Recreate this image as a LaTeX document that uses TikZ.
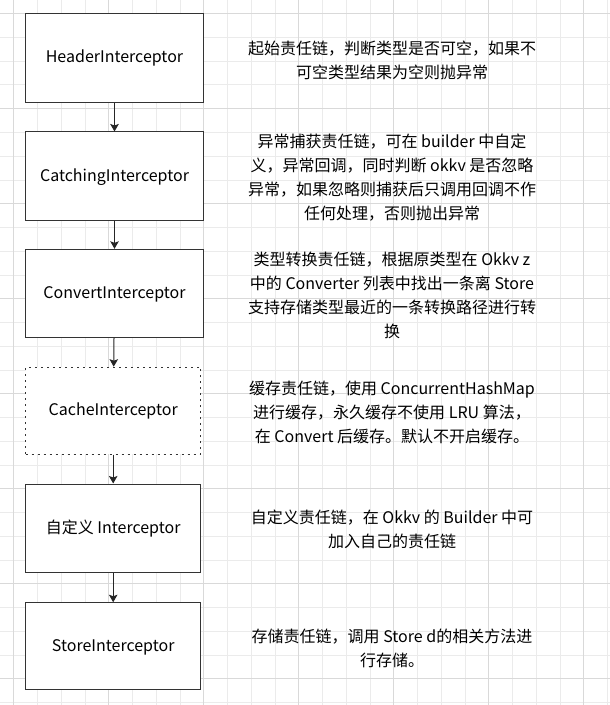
\documentclass[tikz,border=0pt]{standalone}
\usepackage{fontspec}
\setmainfont{Noto Sans CJK SC}
\usepackage{xcolor}
\usepackage{tikz}
\usetikzlibrary{arrows.meta, positioning}

\begin{document}
\begin{tikzpicture}[x=1bp, y=-1bp,
  box/.style={draw=black!80, line width=1bp, minimum width=177.5bp, minimum height=88bp,
    inner sep=0pt, text height=12bp, text depth=2bp, font=\fontsize{16bp}{20bp}\selectfont},
  smallbox/.style={box, minimum width=175bp},
  note/.style={align=center, inner sep=0pt, font=\fontsize{16bp}{24bp}\selectfont},
  link/.style={-{Stealth[length=7.5bp, width=8.5bp, inset=1.5bp]}, line width=1bp, black!85}]
  \useasboundingbox (0,0) rectangle (610,705);
  \fill[white] (0,0) rectangle (610,705);

  % grid
  \foreach \k in {0,...,25} {
    \pgfmathsetmacro\gx{13.75+23.75*\k}
    \draw[black!8, line width=1bp] (\gx,0) -- (\gx,705);
  }
  \foreach \k in {0,...,29} {
    \pgfmathsetmacro\gy{13.75+23.75*\k}
    \draw[black!8, line width=1bp] (0,\gy) -- (610,\gy);
  }
  \foreach \k in {0,4,...,24} {
    \pgfmathsetmacro\gx{13.75+23.75*\k}
    \draw[black!15, line width=1bp] (\gx,0) -- (\gx,705);
  }
  \foreach \k in {0,4,...,28} {
    \pgfmathsetmacro\gy{13.75+23.75*\k}
    \draw[black!15, line width=1bp] (0,\gy) -- (610,\gy);
  }

  % interceptor chain
  \node[box, fill=white] (header) at (114.5,58) {HeaderInterceptor};
  \node[box, fill=white] (catching) at (114.5,176) {CatchingInterceptor};
  \node[box, fill=white] (convert) at (114.5,293.3) {ConvertInterceptor};
  \node[smallbox, fill=white, dash pattern=on 2bp off 4bp, minimum height=87bp] (cache) at (113.2,410.7) {CacheInterceptor};
  \node[smallbox, fill=white] (custom) at (113.2,528) {自定义 Interceptor};
  \node[smallbox, fill=white, minimum height=86.5bp] (store) at (113.2,646) {StoreInterceptor};

  \draw[link] (header) -- (catching);
  \draw[link] (catching) -- (convert);
  \draw[link] (convert) -- (cache);
  \draw[link] (cache) -- (custom);
  \draw[link] (custom) -- (store);

  % notes
  \node[note] (headernote) at (392,60) {起始责任链，判断类型是否可空，如果不\\可空类型结果为空则抛异常};
  \node[note] (catchingnote) at (392,178) {异常捕获责任链，可在 builder 中自定\\义，异常回调，同时判断 okkv 是否忽略\\异常，如果忽略则捕获后只调用回调不作\\任何处理，否则抛出异常};
  \node[note] (convertnote) at (392,295.5) {类型转换责任链，根据原类型在 Okkv z\\中的 Converter 列表中找出一条离 Store\\支持存储类型最近的一条转换路径进行转\\换};
  \node[note] (cachenote) at (392,412.5) {缓存责任链，使用 ConcurrentHashMap\\进行缓存，永久缓存不使用 LRU 算法，\\在 Convert 后缓存。默认不开启缓存。};
  \node[note] (customnote) at (392,529.5) {自定义责任链，在 Okkv 的 Builder 中可\\加入自己的责任链};
  \node[note] (storenote) at (392,648) {存储责任链，调用 Store d的相关方法进\\行存储。};
\end{tikzpicture}
\end{document}
